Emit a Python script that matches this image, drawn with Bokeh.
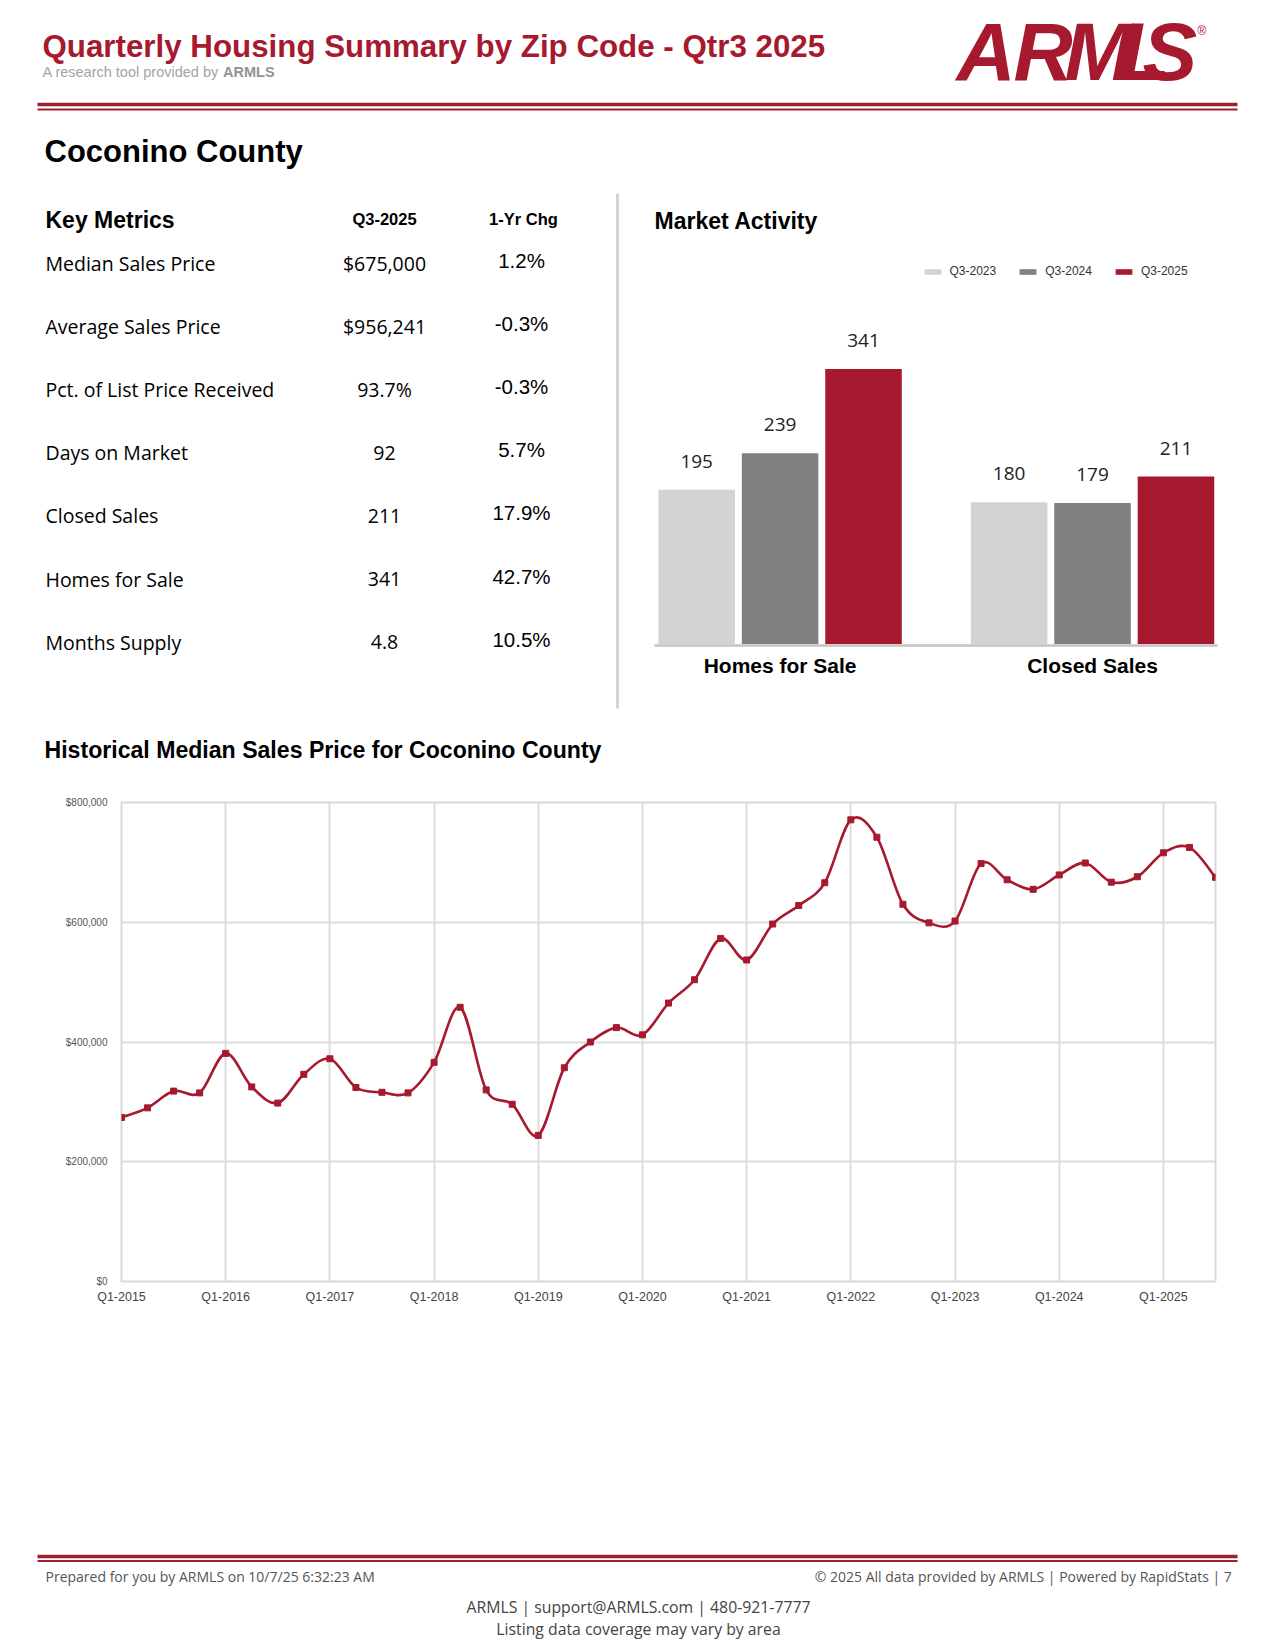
import numpy as np
from bokeh.plotting import figure
from bokeh.models import Range1d, FixedTicker, NumeralTickFormatter, Legend, LegendItem
from bokeh.layouts import column, row
from bokeh.embed import file_html
from bokeh.resources import INLINE
from bokeh.core.properties import value

RED = "#a6192e"
RULE = "#9e1f32"
ARIAL = "Liberation Sans"
SEGOE = "Open Sans"

# ---------------- data ----------------
metric_names = ["Median Sales Price", "Average Sales Price", "Pct. of List Price Received",
                "Days on Market", "Closed Sales", "Homes for Sale", "Months Supply"]
metric_values = ["$675,000", "$956,241", "93.7%", "92", "211", "341", "4.8"]
metric_changes = ["1.2%", "-0.3%", "-0.3%", "5.7%", "17.9%", "42.7%", "10.5%"]

activity_groups = ["Homes for Sale", "Closed Sales"]
activity_series = ["Q3-2023", "Q3-2024", "Q3-2025"]
q3_2023 = [195, 180]
q3_2024 = [239, 179]
q3_2025 = [341, 211]
series_colors = ["#d3d3d3", "#808080", RED]

quarters = ["Q1-2015", "Q2-2015", "Q3-2015", "Q4-2015",
            "Q1-2016", "Q2-2016", "Q3-2016", "Q4-2016",
            "Q1-2017", "Q2-2017", "Q3-2017", "Q4-2017",
            "Q1-2018", "Q2-2018", "Q3-2018", "Q4-2018",
            "Q1-2019", "Q2-2019", "Q3-2019", "Q4-2019",
            "Q1-2020", "Q2-2020", "Q3-2020", "Q4-2020",
            "Q1-2021", "Q2-2021", "Q3-2021", "Q4-2021",
            "Q1-2022", "Q2-2022", "Q3-2022", "Q4-2022",
            "Q1-2023", "Q2-2023", "Q3-2023", "Q4-2023",
            "Q1-2024", "Q2-2024", "Q3-2024", "Q4-2024",
            "Q1-2025", "Q2-2025", "Q3-2025"]
median_prices = [274000, 290000, 318000, 315000,
                 381000, 325000, 298000, 346000,
                 372000, 324000, 316000, 315000,
                 366000, 458000, 320000, 296000,
                 244000, 357000, 400000, 424000,
                 412000, 465000, 504000, 573000,
                 537000, 597000, 628000, 666000,
                 771000, 742000, 630000, 599000,
                 602000, 698000, 671000, 655000,
                 679000, 699000, 667000, 676000,
                 716000, 725000, 675000]
price_ticks = [0, 200000, 400000, 600000, 800000]
year_tick_idx = [0, 4, 8, 12, 16, 20, 24, 28, 32, 36, 40]

PAGE_W = 1270


def no_align(f):
    try:
        f.frame_align = False
    except Exception:
        pass
    return f


def canvas(w, h, x0, y0):
    f = figure(width=w, height=h, x_range=Range1d(x0, x0 + w), y_range=Range1d(y0 + h, y0),
               x_axis_type=None, y_axis_type=None, output_backend="svg",
               toolbar_location=None, min_border=0, outline_line_color=None)
    return no_align(f)


def txt(f, x, y, s, size, font=ARIAL, style="normal", color="black", align="left",
        baseline="middle"):
    f.text(x=[x], y=[y], text=[s], text_font=value(font), text_font_size=f"{size}px",
           text_font_style=style, text_color=color, text_align=align,
           text_baseline=baseline)


# ---------------- header ----------------
hdr = canvas(PAGE_W, 180, 0, 0)
txt(hdr, 42, 45.5, "Quarterly Housing Summary by Zip Code - Qtr3 2025", 31.3, style="bold",
    color=RED)
txt(hdr, 42, 71.5, "A research tool provided by ", 14.5, color="#a3a3a3")
txt(hdr, 222.5, 71.5, "ARMLS", 14.5, style="bold", color="#939393")
for ch, lx in zip("ARMLS", [956, 1013, 1064, 1119, 1142]):
    txt(hdr, lx, 51, ch, 82, style="bold italic", color=RED)
txt(hdr, 1197, 30, "®", 12, color=RED)
hdr.segment(x0=[37, 37], y0=[104, 109], x1=[1237, 1237], y1=[104, 109],
            line_width=[3.5, 2], line_color=RULE)
txt(hdr, 44, 150.5, "Coconino County", 31, style="bold")

# ---------------- key metrics ----------------
km = canvas(622, 540, 0, 180)
km.segment(x0=[617], y0=[193], x1=[617], y1=[708], line_width=3, line_color="#d4d4d4")
txt(km, 45, 219, "Key Metrics", 23, style="bold")
txt(km, 384, 218, "Q3-2025", 16.5, style="bold", align="center")
txt(km, 523, 218, "1-Yr Chg", 16.5, style="bold", align="center")
for i, (nm, vl, ch) in enumerate(zip(metric_names, metric_values, metric_changes)):
    yy = 262.5 + 63.2 * i
    txt(km, 45, yy, nm, 19.5, font=SEGOE)
    txt(km, 384, yy, vl, 19.5, font=SEGOE, align="center")
    txt(km, 521, yy - 3, ch, 20.5, font=ARIAL, align="center")

# ---------------- market activity bars ----------------
bar = figure(width=648, height=540, x_range=Range1d(0.098, 1.9), y_range=Range1d(7, 490),
             output_backend="svg", toolbar_location=None, y_axis_type=None,
             min_border_left=32, min_border_right=53, min_border_top=65, min_border_bottom=75,
             title="Market Activity")
no_align(bar)
bar.outline_line_color = None
bar.grid.visible = False
bar.title.text_font = ARIAL
bar.title.text_font_size = "23px"
bar.title.text_font_style = "bold"
bar.title.text_color = "black"
bar.title.align = "left"
bar.title.standoff = 22.5
group_x = [i + 0.5 for i in range(len(activity_groups))]
offsets = [-0.267, 0.0, 0.267]
rends = []
for k, (vals, col) in enumerate(zip([q3_2023, q3_2024, q3_2025], series_colors)):
    xs = [g + offsets[k] for g in group_x]
    r = bar.vbar(x=xs, top=vals, bottom=0, width=0.245, fill_color=col, line_color=None)
    bar.text(x=xs, y=vals, text=[str(v) for v in vals], y_offset=-28.5, text_align="center",
             text_baseline="middle", text_font=value(SEGOE), text_font_size="19px",
             text_color="#222222")
    rends.append(r)
leg = Legend(items=[LegendItem(label=n, renderers=[r]) for n, r in zip(activity_series, rends)],
             location=(267.5, 367), orientation="horizontal", glyph_width=21, glyph_height=7,
             label_height=7, label_standoff=7, spacing=21, padding=0, margin=0,
             border_line_color=None, background_fill_alpha=0,
             label_text_font=ARIAL, label_text_font_size="12px", label_text_color="#333333")
bar.add_layout(leg)
bar.xaxis.ticker = FixedTicker(ticks=group_x)
bar.xaxis.major_label_overrides = {g: n for g, n in zip(group_x, activity_groups)}
bar.xaxis.axis_line_color = "#cccccc"
bar.xaxis.axis_line_width = 3
bar.xaxis.major_tick_line_color = None
bar.xaxis.minor_tick_line_color = None
bar.xaxis.major_label_text_font = ARIAL
bar.xaxis.major_label_text_font_size = "21px"
bar.xaxis.major_label_text_font_style = "bold"
bar.xaxis.major_label_text_color = "black"
bar.xaxis.major_label_standoff = 2

# ---------------- heading for history ----------------
hh = canvas(PAGE_W, 55, 0, 720)
txt(hh, 44, 749, "Historical Median Sales Price for Coconino County", 23.1, style="bold")

# ---------------- line chart ----------------
lc = figure(width=PAGE_W, height=545, x_range=Range1d(0, len(quarters) - 1),
            y_range=Range1d(price_ticks[0], price_ticks[-1]), output_backend="svg",
            toolbar_location=None, min_border_left=121, min_border_right=55,
            min_border_top=27, min_border_bottom=39)
no_align(lc)
lc.outline_line_color = "#d9d9d9"
lc.outline_line_width = 2
lc.xaxis.ticker = FixedTicker(ticks=year_tick_idx)
lc.xaxis.major_label_overrides = {i: quarters[i] for i in year_tick_idx}
lc.yaxis.ticker = FixedTicker(ticks=price_ticks)
lc.yaxis.formatter = NumeralTickFormatter(format="$0,0")
lc.axis.axis_line_color = None
lc.axis.major_tick_line_color = None
lc.axis.minor_tick_line_color = None
lc.xaxis.major_label_text_font = ARIAL
lc.xaxis.major_label_text_font_size = "12.5px"
lc.xaxis.major_label_text_color = "#444444"
lc.xaxis.major_label_standoff = 2
lc.yaxis.major_label_text_font = ARIAL
lc.yaxis.major_label_text_font_size = "10px"
lc.yaxis.major_label_text_color = "#555555"
lc.yaxis.major_label_standoff = 8
lc.grid.grid_line_color = "#dcdcdc"
lc.grid.grid_line_width = 2

xq = np.arange(len(median_prices), dtype=float)
yq = np.array(median_prices, dtype=float)
n = len(yq)
nxt = np.minimum(np.arange(n) + 1, n - 1)
prv = np.maximum(np.arange(n) - 1, 0)
tx = (xq[nxt] - xq[prv]) / 6.0
ty = (yq[nxt] - yq[prv]) / 6.0
lc.bezier(x0=xq[:-1], y0=yq[:-1], x1=xq[1:], y1=yq[1:],
          cx0=xq[:-1] + tx[:-1], cy0=yq[:-1] + ty[:-1],
          cx1=xq[1:] - tx[1:], cy1=yq[1:] - ty[1:],
          line_color=RED, line_width=2.6)
lc.scatter(xq, yq, marker="square", size=6, fill_color=RED, line_color=RED)

# ---------------- footer ----------------
ft = canvas(PAGE_W, 325, 0, 1320)
ft.segment(x0=[37, 37], y0=[1556, 1560.5], x1=[1237, 1237], y1=[1556, 1560.5],
           line_width=[3.5, 2], line_color=RULE)
txt(ft, 45, 1576, "Prepared for you by ARMLS on 10/7/25 6:32:23 AM", 14, font=SEGOE,
    color="#555555")
txt(ft, 1235, 1576, "© 2025 All data provided by ARMLS | Powered by RapidStats  | 7", 14,
    font=SEGOE, color="#555555", align="right")
txt(ft, 638, 1606, "ARMLS | support@ARMLS.com | 480-921-7777", 15.8, font=SEGOE,
    color="#444444", align="center")
txt(ft, 638, 1628, "Listing data coverage may vary by area", 15.8, font=SEGOE,
    color="#444444", align="center")

page = column(hdr, row(km, bar, spacing=0), hh, lc, ft, spacing=0)
open("out.html", "w").write(file_html(page, INLINE))
